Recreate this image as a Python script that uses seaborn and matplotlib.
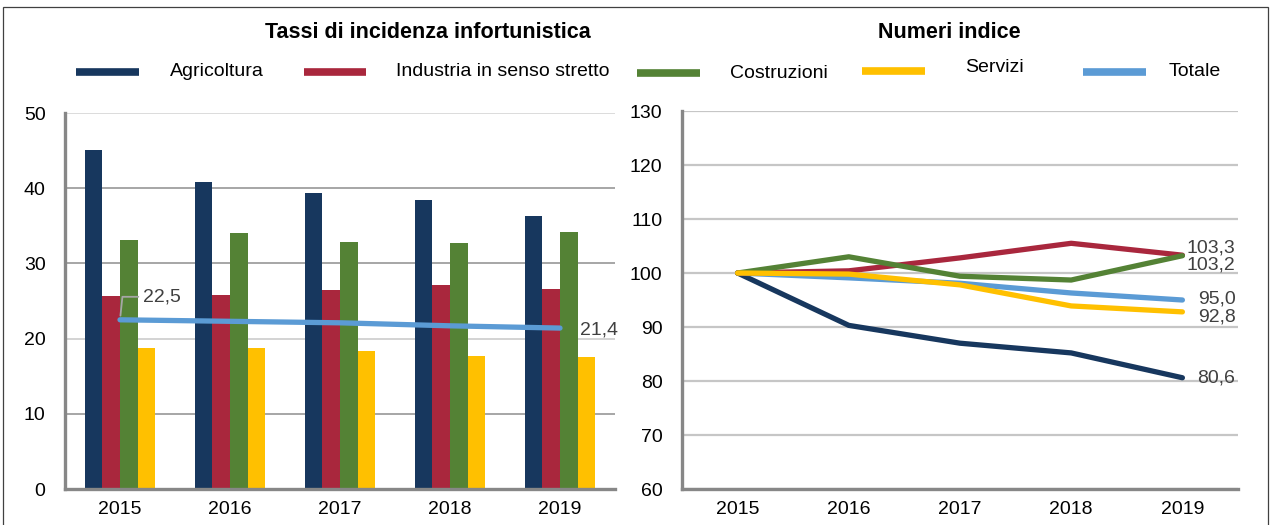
import numpy as np
import pandas as pd
import matplotlib
matplotlib.use("Agg")
import matplotlib.pyplot as plt
from matplotlib.lines import Line2D
from matplotlib.patches import Rectangle
from matplotlib.ticker import FixedLocator, MultipleLocator
import seaborn as sns

# ---- dati ----
anni = ["2015", "2016", "2017", "2018", "2019"]
anni_num = [2015, 2016, 2017, 2018, 2019]
settori = ["Agricoltura", "Industria in senso stretto", "Costruzioni", "Servizi"]

# tassi di incidenza infortunistica per settore
agricoltura = [45.1, 40.8, 39.3, 38.4, 36.3]
industria = [25.7, 25.8, 26.4, 27.1, 26.6]
costruzioni = [33.1, 34.1, 32.9, 32.7, 34.2]
servizi = [18.8, 18.7, 18.4, 17.7, 17.5]
totale = [22.5, 22.3, 22.1, 21.7, 21.4]

# numeri indice (2015 = 100)
idx_agricoltura = [100.0, 90.3, 87.0, 85.2, 80.6]
idx_industria = [100.0, 100.4, 102.8, 105.5, 103.3]
idx_costruzioni = [100.0, 103.0, 99.4, 98.7, 103.2]
idx_servizi = [100.0, 99.8, 97.8, 93.9, 92.8]
idx_totale = [100.0, 99.1, 98.1, 96.3, 95.0]

colori = {
    "Agricoltura": "#17375E",
    "Industria in senso stretto": "#A9273D",
    "Costruzioni": "#548235",
    "Servizi": "#FFC000",
    "Totale": "#5B9BD5",
}

sns.set_style("white")
plt.rcParams["font.family"] = ["Liberation Sans", "DejaVu Sans"]
FS = 14
GRIGIO_ASSE = "#878787"
GRIGIO_TESTO = "#404040"

W, H = 1271, 525
fig = plt.figure(figsize=(W / 100, H / 100), dpi=100)

def fx(px):
    return px / W

def fy(py):
    return 1 - py / H

ax1 = fig.add_axes([fx(65), fy(489), fx(615) - fx(65), fy(113) - fy(489)])
ax2 = fig.add_axes([fx(682), fy(489), fx(1238) - fx(682), fy(111) - fy(489)])

# ---- tassi: barre per settore + linea del totale ----
tassi = pd.DataFrame({
    "anno": anni,
    "Agricoltura": agricoltura,
    "Industria in senso stretto": industria,
    "Costruzioni": costruzioni,
    "Servizi": servizi,
}).melt(id_vars="anno", var_name="settore", value_name="tasso")

sns.barplot(data=tassi, x="anno", y="tasso", hue="settore", hue_order=settori,
            palette=colori, width=0.645, saturation=1, linewidth=0,
            ax=ax1, legend=False, zorder=2)
pos = np.arange(len(anni))
ax1.plot(pos, totale, color=colori["Totale"], lw=3.8,
         solid_capstyle="round", zorder=4)

def fmt(v):
    return f"{v:.1f}".replace(".", ",")

ax1.annotate(fmt(totale[0]), xy=(pos[0], totale[0]), xytext=(23, 23),
             textcoords="offset pixels", ha="left", va="center",
             fontsize=FS, color=GRIGIO_TESTO, zorder=5,
             arrowprops=dict(arrowstyle="-", color="#A6A6A6", lw=1.3,
                             shrinkA=1, shrinkB=3,
                             connectionstyle="angle,angleA=0,angleB=84,rad=0"))
ax1.annotate(fmt(totale[-1]), xy=(pos[-1], totale[-1]), xytext=(20, -2),
             textcoords="offset pixels", ha="left", va="center",
             fontsize=FS, color=GRIGIO_TESTO, zorder=5, annotation_clip=False)

ax1.set_xlim(-0.5, 4.5)
ax1.set_ylim(0, 50)
ax1.yaxis.set_major_locator(MultipleLocator(10))
ax1.xaxis.set_minor_locator(FixedLocator(np.arange(-0.5, 5, 1.0)))

# griglia orizzontale del grafico a barre
for y, col in [(10, "#8E8E8E"), (20, "#C8C8C8"), (30, "#8E8E8E"),
               (40, "#8E8E8E"), (50, "#D2D2D2")]:
    ax1.axhline(y, color=col, lw=1.1, zorder=0.5)

# ---- numeri indice ----
ordine_linee = ["Agricoltura", "Totale", "Industria in senso stretto",
                "Costruzioni", "Servizi"]
indici = pd.DataFrame({
    "anno": anni_num,
    "Agricoltura": idx_agricoltura,
    "Industria in senso stretto": idx_industria,
    "Costruzioni": idx_costruzioni,
    "Servizi": idx_servizi,
    "Totale": idx_totale,
}).melt(id_vars="anno", var_name="settore", value_name="indice")

sns.lineplot(data=indici, x="anno", y="indice", hue="settore",
             hue_order=ordine_linee, palette=colori, linewidth=3.8,
             sort=False, legend=False, ax=ax2, zorder=3,
             solid_capstyle="round", solid_joinstyle="round")

etichette_finali = [
    (idx_industria[-1], 7),
    (idx_costruzioni[-1], -9),
    (idx_totale[-1], 1),
    (idx_servizi[-1], -5),
    (idx_agricoltura[-1], 0),
]
for v, dy in etichette_finali:
    ax2.annotate(fmt(v), xy=(anni_num[-1], v), xytext=(53, dy),
                 textcoords="offset pixels", ha="right", va="center",
                 fontsize=FS, color=GRIGIO_TESTO, annotation_clip=False)

ax2.set_xlim(2014.5, 2019.5)
ax2.set_ylim(60, 130)
ax2.set_xticks(anni_num)
ax2.set_xticklabels(anni)
ax2.yaxis.set_major_locator(MultipleLocator(10))
ax2.xaxis.set_minor_locator(FixedLocator(np.arange(2014.5, 2020, 1.0)))
ax2.yaxis.grid(True, color="#C6C6C6", lw=1.6)

# ---- stile comune degli assi ----
for ax in (ax1, ax2):
    ax.set_xlabel("")
    ax.set_ylabel("")
    ax.set_axisbelow(True)
    ax.xaxis.grid(False)
    for s in ("top", "right"):
        ax.spines[s].set_visible(False)
    for s in ("left", "bottom"):
        ax.spines[s].set_color(GRIGIO_ASSE)
        ax.spines[s].set_linewidth(2.4)
        ax.spines[s].set_zorder(6)
    ax.tick_params(axis="y", which="major", length=6, width=1.3,
                   color=GRIGIO_ASSE, labelsize=FS, labelcolor="black", pad=8)
    ax.tick_params(axis="x", which="major", length=0, labelsize=FS,
                   labelcolor="black", pad=9)
    ax.tick_params(axis="x", which="minor", length=7, width=1.3,
                   color=GRIGIO_ASSE)

# ---- titoli ----
fig.text(fx(428), fy(33), "Tassi di incidenza infortunistica", ha="center",
         va="center", fontsize=15.5, fontweight="bold", color="black")
fig.text(fx(949), fy(33), "Numeri indice", ha="center", va="center",
         fontsize=15.5, fontweight="bold", color="black")

# ---- legenda ----
voci = [
    ("Agricoltura", 76, 139, 170, 72),
    ("Industria in senso stretto", 304, 366, 396, 72),
    ("Costruzioni", 637, 700, 730, 73),
    ("Servizi", 862, 925, 965, 68),
    ("Totale", 1083, 1146, 1169, 72),
]
for nome, x0, x1, xt, yt in voci:
    yl = yt if nome != "Servizi" else yt + 3
    fig.add_artist(Line2D([fx(x0), fx(x1)], [fy(yl), fy(yl)],
                          transform=fig.transFigure, color=colori[nome],
                          lw=5.5, solid_capstyle="butt"))
    fig.text(fx(xt), fy(yt), nome, ha="left", va="center", fontsize=FS,
             color="black")

# ---- cornice ----
fig.add_artist(Rectangle((fx(3), -0.05), fx(1268) - fx(3), fy(7) + 0.05,
                         transform=fig.transFigure, fill=False,
                         edgecolor="#404040", lw=0.9))

fig.savefig("out.png", dpi=100)
